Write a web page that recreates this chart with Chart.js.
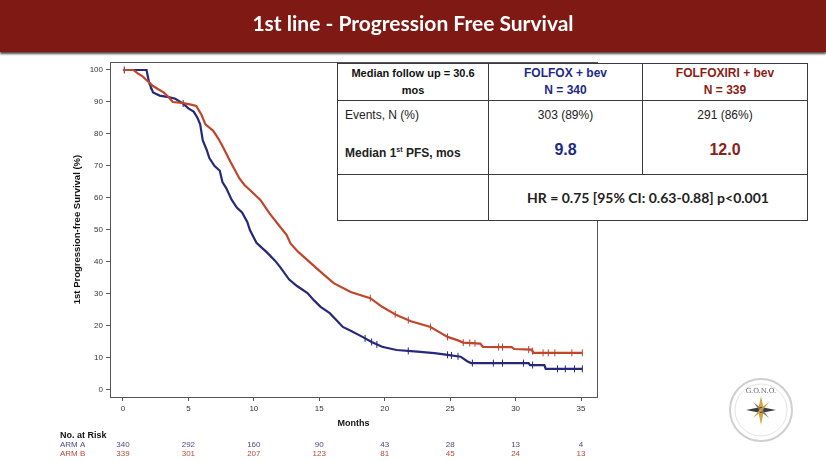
<!DOCTYPE html>
<html>
<head>
<meta charset="utf-8">
<script src="https://cdn.jsdelivr.net/npm/chart.js@4.4.1/dist/chart.umd.min.js"></script>
<style>
  body { margin:0; width:826px; height:462px; background:#fff; overflow:hidden; position:relative; font-family:"Liberation Sans", Arial, sans-serif; }
  #bar { position:absolute; left:0; top:0; width:826px; height:52px; background:#7e1a13; box-shadow:0 2px 2px rgba(50,40,40,0.85); color:#fff; font-family:Lato, sans-serif; font-weight:700; font-size:21px; text-align:center; line-height:46px; z-index:2; }
  #wrap { position:absolute; left:0; top:0; width:826px; height:462px; }
  table.info { position:absolute; left:337px; top:63px; width:470px; table-layout:fixed; border-collapse:collapse; background:#fff; z-index:3; font-size:12px; color:#222; }
  table.info td { border:1.5px solid #3a3a3a; padding:0; text-align:center; vertical-align:top; }
  table.info tr.h td { height:36px; font-weight:700; line-height:17px; vertical-align:middle; }
  table.info tr.h td.c1 { font-size:11px; color:#111; }
  table.info tr.m td { height:70px; }
  table.info tr.hr td { height:45px; vertical-align:middle; font-family:Lato, sans-serif; font-weight:700; font-size:14px; color:#222; }
  table.info td.l { text-align:left; padding-left:7px; }
  .r1 { height:28px; line-height:28px; }
  .r2 { line-height:42px; }
  .b { font-weight:700; }
  .big { font-weight:700; font-size:16px; }
  .blue { color:#1c2a87; }
  .red { color:#8c1c17; }
  sup { font-size:7px; }
  #logo { position:absolute; left:726px; top:375px; }
</style>
</head>
<body>
<div id="bar">1st line - Progression Free Survival</div>
<div id="wrap"><canvas id="km" width="826" height="462"></canvas></div>

<table class="info">
  <colgroup><col style="width:151px"><col style="width:154px"><col style="width:165px"></colgroup>
  <tr class="h">
    <td class="c1">Median follow up = 30.6<br>mos</td>
    <td class="blue">FOLFOX + bev<br>N = 340</td>
    <td class="red">FOLFOXIRI + bev<br>N = 339</td>
  </tr>
  <tr class="m">
    <td class="l"><div class="r1">Events, N (%)</div><div class="r2 b">Median 1<sup>st</sup> PFS, mos</div></td>
    <td><div class="r1">303 (89%)</div><div class="r2 big blue">9.8</div></td>
    <td><div class="r1">291 (86%)</div><div class="r2 big red">12.0</div></td>
  </tr>
  <tr class="hr">
    <td></td>
    <td colspan="2">HR = 0.75 [95% CI: 0.63-0.88] p&lt;0.001</td>
  </tr>
</table>

<svg id="logo" width="70" height="70" viewBox="0 0 70 70">
  <circle cx="35" cy="35" r="31" fill="#fff" stroke="#cfcfcf" stroke-width="2"/>
  <circle cx="35" cy="35" r="26" fill="none" stroke="#e4e4e4" stroke-width="1"/>
  <text x="35" y="18" font-size="7" text-anchor="middle" fill="#666" font-family="DejaVu Serif, serif">G.O.N.O.</text>
  <polygon points="35,21 38,35 35,50 32,35" fill="#d8a341"/>
  <polygon points="20,35 35,32 50,35 35,38" fill="#3c3c3c"/>
  <polygon points="27,27 36,34 43,43 34,36" fill="#777"/>
  <polygon points="43,27 36,36 27,43 34,34" fill="#c99a40"/>
</svg>

<script>
// ARM A = FOLFOX + bev, ARM B = FOLFOXIRI + bev (months, % progression-free)
const armATime = [0,1.8,2.0,2.3,2.8,3.5,4.0,4.6,5.0,5.4,5.7,5.9,6.1,6.4,6.6,7.0,7.4,7.6,7.9,8.3,8.7,9.1,9.5,9.7,10.2,10.6,11.0,11.6,12.0,12.7,13.3,14.1,14.6,15.1,15.8,16.3,16.8,17.4,18.3,19.0,19.8,20.9,22.5,23.8,24.8,25.8,26.3,26.6,31.0,31.1,32.2,32.3,35.1];
const armASurv = [100,100,96,93,92,91.5,91,89.5,88,87,85,83,78,75,72.5,70,68.5,65,63,59.5,57,55.5,52.5,50,46,44.5,43,40.5,38.5,34.5,32.5,30.3,28,26,24,21.9,19.7,18.5,16.6,15,13.5,12.5,12,11.5,11,10.4,9.0,8.4,8.4,7.8,7.8,6.6,6.6];
const armBTime = [0,0.8,1.1,1.5,1.9,2.3,2.7,3.1,3.5,3.8,4.5,5.2,5.6,6.0,6.3,6.9,7.3,7.7,8.2,8.9,9.3,9.7,10.5,11.2,12.0,12.5,12.8,13.3,13.8,14.8,15.5,16.1,17.4,18.9,19.8,20.9,22.0,23.5,24.2,24.8,25.6,26.0,27.3,27.5,29.7,29.9,31.2,31.4,35.1];
const armBSurv = [100,100,99,98,96.5,95,94,93,91.5,90,89.7,89.2,88.8,86,83,81,78.5,75.5,71.4,66.1,64,62.5,59.4,55.2,51,48.5,45.8,43.5,41.7,38,35.5,33.4,30.6,28.7,26,23.4,21.5,19.7,18,16.6,15.5,14.8,14.5,13.5,13.4,12.8,12.6,11.6,11.6];
// censoring marks (months)
const armACensor = [0.1,2.1,4.6,18.5,19.0,19.4,21.8,24.8,25.1,25.6,26.7,28.3,29.0,30.6,31.3,33.2,33.8,34.5,35.1];
const armBCensor = [18.9,20.8,21.8,23.5,24.8,26.0,26.5,26.9,28.7,29.0,31.0,31.3,32.1,32.5,33.0,34.3,35.1];
// numbers at risk
const riskTimes = [0,5,10,15,20,25,30,35];
const riskA = [340,292,160,90,43,28,13,4];
const riskB = [339,301,207,123,81,45,24,13];
const xTicks = [0,5,10,15,20,25,30,35];
const yTicks = [0,10,20,30,40,50,60,70,80,90,100];

const blue = '#26287a';
const red = '#c0452a';

function survAt(times, surv, t) {
  for (let i = 1; i < times.length; i++) {
    if (t <= times[i]) {
      const f = (t - times[i-1]) / (times[i] - times[i-1]);
      return surv[i-1] + f * (surv[i] - surv[i-1]);
    }
  }
  return surv[surv.length - 1];
}

const pts = (ts, ss) => ts.map((t, i) => ({x: t, y: ss[i]}));
const cens = (cs, ts, ss) => cs.map(t => ({x: t, y: survAt(ts, ss, t)}));

const extras = {
  id: 'extras',
  afterDraw(chart) {
    const {ctx, chartArea: a, scales: {x}} = chart;
    ctx.save();
    ctx.strokeStyle = '#555';
    ctx.lineWidth = 1;
    ctx.strokeRect(a.left + 0.5, a.top + 0.5, a.right - a.left, a.bottom - a.top);
    // risk table
    ctx.textBaseline = 'middle';
    ctx.fillStyle = '#111';
    ctx.font = 'bold 9px "Liberation Sans", Arial';
    ctx.textAlign = 'left';
    ctx.fillText('No. at Risk', 60, 436);
    ctx.font = '8px "Liberation Sans", Arial';
    ctx.fillStyle = '#4a4a8c';
    ctx.fillText('ARM A', 60, 445);
    ctx.fillStyle = '#b04a3a';
    ctx.fillText('ARM B', 60, 454);
    ctx.textAlign = 'center';
    riskTimes.forEach((t, i) => {
      const px = x.getPixelForValue(t);
      ctx.fillStyle = '#4a4a8c';
      ctx.fillText(String(riskA[i]), px, 445);
      ctx.fillStyle = '#b04a3a';
      ctx.fillText(String(riskB[i]), px, 454);
    });
    ctx.restore();
  }
};

new Chart(document.getElementById('km'), {
  type: 'line',
  data: {
    datasets: [
      { label: 'ARM B', data: pts(armBTime, armBSurv), borderColor: red, borderWidth: 2.2, pointRadius: 0, tension: 0 },
      { label: 'ARM A', data: pts(armATime, armASurv), borderColor: blue, borderWidth: 2.2, pointRadius: 0, tension: 0 },
      { type: 'scatter', data: cens(armBCensor, armBTime, armBSurv), borderColor: red, backgroundColor: red, pointStyle: 'line', rotation: 90, pointRadius: 3.5, borderWidth: 1 },
      { type: 'scatter', data: cens(armACensor, armATime, armASurv), borderColor: blue, backgroundColor: blue, pointStyle: 'line', rotation: 90, pointRadius: 3.5, borderWidth: 1 }
    ]
  },
  options: {
    responsive: false,
    animation: false,
    devicePixelRatio: 1,
    layout: { padding: { left: 72, right: 229, top: 62, bottom: 33 } },
    plugins: { legend: { display: false }, tooltip: { enabled: false } },
    scales: {
      x: {
        type: 'linear', min: -0.99, max: 36.22,
        afterFit(s) { s.height = 32; },
        afterBuildTicks(s) { s.ticks = xTicks.map(v => ({value: v})); },
        grid: { drawOnChartArea: false, tickLength: 4, color: '#555' },
        border: { color: '#555' },
        ticks: { color: '#333', font: { size: 8, family: '"Liberation Sans", Arial' }, padding: 3, maxRotation: 0 },
        title: { display: true, text: 'Months', color: '#111', font: { size: 9, weight: 'bold', family: '"Liberation Sans", Arial' }, padding: 0 }
      },
      y: {
        min: -2.19, max: 102.5,
        afterFit(s) { s.width = 38; },
        afterBuildTicks(s) { s.ticks = yTicks.map(v => ({value: v})); },
        grid: { drawOnChartArea: false, tickLength: 4, color: '#555' },
        border: { color: '#555' },
        ticks: { color: '#333', font: { size: 8, family: '"Liberation Sans", Arial' }, padding: 3 },
        title: { display: true, text: '1st Progression-free Survival (%)', color: '#111', font: { size: 9.5, weight: 'bold', family: '"Liberation Sans", Arial' }, padding: 0 }
      }
    }
  },
  plugins: [extras]
});
</script>
</body>
</html>
